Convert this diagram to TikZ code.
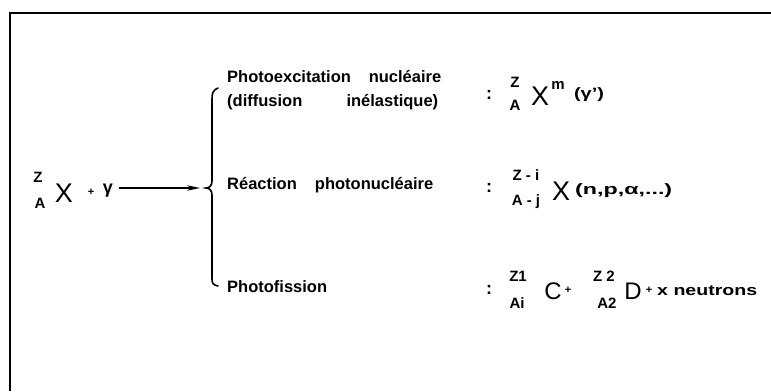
\documentclass[tikz,border=0pt]{standalone}
\usepackage{fontspec}
\usepackage{graphicx}
\setmainfont{Liberation Sans}
\usetikzlibrary{arrows.meta}
\newcommand{\fitw}[2]{\resizebox{#1}{\height}{#2}}
\begin{document}
\begin{tikzpicture}[x=1pt,y=1pt,
  lbl/.style={font=\fontsize{16.5}{18}\selectfont\bfseries, anchor=west, inner sep=0pt},
  idx/.style={font=\fontsize{15}{17}\selectfont\bfseries, inner sep=0pt},
  bigl/.style={font=\fontsize{27}{29}\selectfont, inner sep=0pt},
  midl/.style={font=\fontsize{24}{26}\selectfont, inner sep=0pt},
  sml/.style={font=\fontsize{15}{17}\selectfont\bfseries, inner sep=0pt},
  colon/.style={font=\fontsize{18}{20}\selectfont\bfseries, inner sep=0pt},
  plusl/.style={font=\fontsize{11}{12}\selectfont\bfseries, inner sep=0pt},
  frame/.style={line width=2pt},
  brace/.style={line width=1.6pt, line cap=round},
  conn/.style={line width=1.8pt, -{Stealth[length=13pt,width=5.5pt]}}]
\useasboundingbox (0,0) rectangle (771,391);
% frame (cut off at right and bottom)
\draw[frame] (771,378) -- (10,378) -- (10,0);
% left reactants
\node[idx] (lz) at (38,214) {Z};
\node[idx] (la) at (40,188) {A};
\node[bigl] (lx) at (64,198) {X};
\node[plusl] (lp) at (91,199) {+};
\node[font=\fontsize{18}{20}\selectfont\bfseries, inner sep=0pt] (lg) at (108,200) {γ};
\coordinate (tip) at (200,203);
\path (lg.east |- tip) ++(6pt,0) coordinate (as);
\draw[conn] (as) -- (tip);
% brace
\draw[brace] (218,303) .. controls (213,301) and (212,298) .. (212,292)
  -- (212,210) .. controls (212,206) and (210,203) .. (206,203)
  .. controls (210,203) and (212,200) .. (212,196)
  -- (212,112) .. controls (212,108) and (213,106) .. (218,105);
% row 1
\node[lbl] (r1a) at (227,314) {\makebox[214pt][s]{Photoexcitation nucléaire}};
\node[lbl] (r1b) at (227,289) {\makebox[211pt][s]{(diffusion inélastique)}};
\node[colon] (c1) at (489,296) {:};
\node[idx] (z1) at (515,309) {Z};
\node[idx] (a1) at (515,286) {A};
\node[bigl] (x1) at (540,295) {X};
\node[idx] (m1) at (558,306) {m};
\node[sml] (g1) at (589,296) {\fitw{30pt}{(γ')}};
% row 2
\node[lbl] (r2) at (227,206) {\makebox[206pt][s]{Réaction photonucléaire}};
\node[colon] (c2) at (489,203) {:};
\node[idx] (z2) at (526,216) {Z - i};
\node[idx] (a2) at (526,189) {A - j};
\node[bigl] (x2) at (561,200) {X};
\node[sml, anchor=west] (n2) at (575,200) {\fitw{97pt}{(n,p,α,...)}};
% row 3
\node[lbl] (r3) at (227,104) {Photofission};
\node[colon] (c3) at (489,101) {:};
\node[idx] (z3) at (518,115) {Z1};
\node[idx] (a3) at (517,88) {Ai};
\node[midl] (cc) at (553,100) {C};
\node[plusl] (p3) at (568,101) {+};
\node[idx] (z4) at (604,115) {Z 2};
\node[idx] (a4) at (607,88) {A2};
\node[midl] (dd) at (633,100) {D};
\node[plusl] (p4) at (649,101) {+};
\node[sml, anchor=west] (xn) at (657,100) {\fitw{100pt}{x neutrons}};
\end{tikzpicture}
\end{document}
